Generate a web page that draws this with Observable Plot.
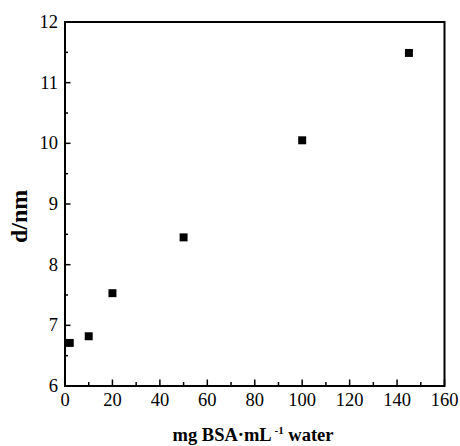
<!DOCTYPE html>
<html>
<head>
<meta charset="utf-8">
<script src="https://cdn.jsdelivr.net/npm/d3@7"></script>
<script src="https://cdn.jsdelivr.net/npm/@observablehq/plot@0.6"></script>
<style>
  html, body { margin: 0; padding: 0; background: #fff; }
  svg text { font-family: 'Liberation Serif', 'Times New Roman', serif; }
</style>
</head>
<body>
<div id="chart"></div>
<script>
const concentration = [2, 10, 20, 50, 100, 145];
const diameter = [6.71, 6.82, 7.53, 8.45, 10.05, 11.49];
const xMajorTicks = [0, 20, 40, 60, 80, 100, 120, 140, 160];
const xMinorTicks = [10, 30, 50, 70, 90, 110, 130, 150];
const yMajorTicks = [6, 7, 8, 9, 10, 11, 12];
const yMinorTicks = [6.5, 7.5, 8.5, 9.5, 10.5, 11.5];
const yLabel = "d/nm";

const data = concentration.map((x, i) => ({x, y: diameter[i]}));
const font = "'Liberation Serif', 'Times New Roman', serif";
const fmt = d => String(d);

const plot = Plot.plot({
  width: 460,
  height: 446,
  marginLeft: 64.5,
  marginRight: 16,
  marginTop: 21.5,
  marginBottom: 60.5,
  style: {fontFamily: font, fontSize: "17px", color: "#000", background: "#fff"},
  x: {domain: [0, 160]},
  y: {domain: [6, 12]},
  marks: [
    Plot.axisX(xMajorTicks, {tickSize: 0, tickPadding: 7, label: null, fontSize: 18.5, fontFamily: font, tickFormat: fmt, fill: "#000"}),
    Plot.axisX(xMajorTicks, {tickSize: -6, strokeWidth: 1.5, tickFormat: () => "", label: null}),
    Plot.axisX(xMinorTicks, {tickSize: -3.5, strokeWidth: 1.5, tickFormat: () => "", label: null}),
    Plot.axisY(yMajorTicks, {tickSize: 0, tickPadding: 7, label: null, fontSize: 18.5, fontFamily: font, tickFormat: fmt, fill: "#000"}),
    Plot.axisY(yMajorTicks, {tickSize: -6, strokeWidth: 1.5, tickFormat: () => "", label: null}),
    Plot.axisY(yMinorTicks, {tickSize: -3.5, strokeWidth: 1.5, tickFormat: () => "", label: null}),
    Plot.frame({stroke: "#000", strokeWidth: 2}),
    Plot.dot(data, {x: "x", y: "y", symbol: "square", r: 4.5, fill: "#000", stroke: "none"}),
    Plot.text([yLabel], {frameAnchor: "left", dx: -46, dy: 39, rotate: -90, fontSize: 24, fontWeight: "bold", fontFamily: font, fill: "#000"})
  ]
});

// x-axis title with superscript
const svg = d3.select(plot);
const t = svg.append("text")
  .attr("x", 253)
  .attr("y", 441)
  .attr("text-anchor", "middle")
  .attr("font-family", font)
  .attr("font-size", 18.5)
  .attr("font-weight", "bold")
  .attr("fill", "#000");
t.append("tspan").text("mg BSA·mL");
t.append("tspan").attr("dy", -7).attr("font-size", 11).text(" -1");
t.append("tspan").attr("dy", 7).text(" water");

document.getElementById("chart").appendChild(plot);
</script>
</body>
</html>
